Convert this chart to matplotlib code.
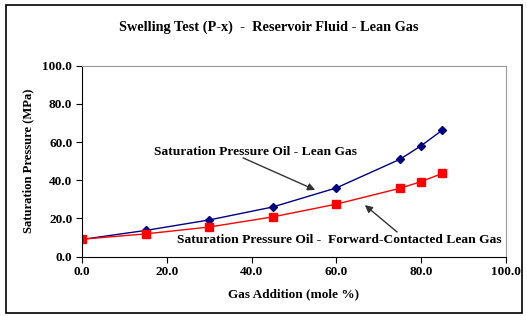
import matplotlib.pyplot as plt
from matplotlib.patches import Rectangle

plt.rcParams['font.family'] = ['Liberation Serif', 'DejaVu Serif']
plt.rcParams['font.weight'] = 'bold'

# data
gas_add = [0, 15, 30, 45, 60, 75, 80, 85]
p_lean = [9.0, 13.7, 19.2, 26.0, 36.0, 51.0, 58.1, 66.3]
p_fwd = [9.1, 11.9, 15.5, 20.8, 27.5, 35.8, 39.3, 43.6]
ticks = [0, 20, 40, 60, 80, 100]

fig = plt.figure(figsize=(5.27, 3.16), dpi=100)
ax = fig.add_axes([0.1556, 0.188, 0.8046, 0.604])

ax.plot(gas_add, p_lean, color='#000080', lw=1.0, marker='D', ms=3.8,
        mfc='#000080', mec='#000080')
ax.plot(gas_add, p_fwd, color='#FF0000', lw=1.0, marker='s', ms=5.5,
        mfc='#FF0000', mec='#FF0000')

ax.set_xlim(0, 100)
ax.set_ylim(0, 100)
ax.set_xticks(ticks)
ax.set_yticks(ticks)
ax.set_xticklabels(['%.1f' % t for t in ticks], fontsize=9.5, fontweight='bold')
ax.set_yticklabels(['%.1f' % t for t in ticks], fontsize=9.5, fontweight='bold')
ax.tick_params(direction='out', length=4, width=0.8, pad=3)
for s in ['top', 'right']:
    ax.spines[s].set_color('#999999')
    ax.spines[s].set_linewidth(0.8)
for s in ['left', 'bottom']:
    ax.spines[s].set_linewidth(0.8)

ax.set_xlabel('Gas Addition (mole %)', fontsize=9.5, fontweight='bold', labelpad=7)
ax.set_ylabel('Saturation Pressure (MPa)', fontsize=9.1, fontweight='bold', labelpad=6)
fig.text(0.510, 0.915, 'Swelling Test (P-x)  -  Reservoir Fluid - Lean Gas',
         ha='center', va='center', fontsize=10.3, fontweight='bold')

ax.text(16.9, 54.8, 'Saturation Pressure Oil - Lean Gas', fontsize=9.7,
        fontweight='bold', va='center', ha='left')
ax.text(22.5, 8.7, 'Saturation Pressure Oil -  Forward-Contacted Lean Gas', fontsize=9.7,
        fontweight='bold', va='center', ha='left')
arrow = dict(arrowstyle='-|>', color='#333333', lw=1.0, mutation_scale=11,
             shrinkA=0, shrinkB=0)
ax.annotate('', xy=(55.0, 34.9), xytext=(38.0, 51.7), arrowprops=arrow)
ax.annotate('', xy=(66.7, 27.0), xytext=(74.3, 12.9), arrowprops=arrow)

fig.patches.append(Rectangle((0.011, 0.01), 0.979, 0.975, transform=fig.transFigure,
                             fill=False, edgecolor='black', lw=1.2))

fig.savefig('out.png', dpi=100)
